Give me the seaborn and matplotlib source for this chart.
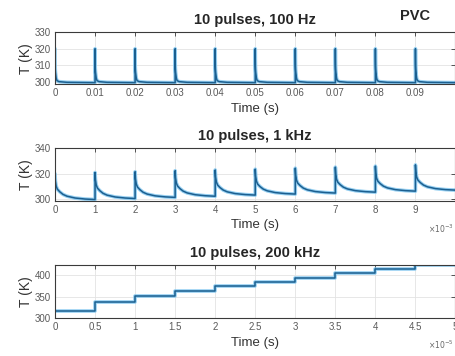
# recreate three-panel PVC pulse heating chart

import numpy as np
import matplotlib
matplotlib.use("Agg")
import matplotlib.pyplot as plt
import seaborn as sns

# ---- data ----
# 100 Hz: peak after each pulse and lowest value before the next one (K)
peak_100hz = [320, 320, 320, 320, 320, 320, 320, 320, 320, 320]
low_100hz = [299.4, 299.4, 299.4, 299.4, 299.4, 299.4, 299.4, 299.4, 299.4, 299.4]
# decay after a pulse: time as share of the period, value as share of the rise
decay_100hz_t = [0, 0.001, 0.003, 0.006, 0.012, 0.03, 0.05, 0.1, 0.3, 1.0]
decay_100hz_v = [1, 0.7, 0.5, 0.4, 0.3, 0.13, 0.06, 0.03, 0.01, 0]

# 1 kHz
peak_1khz = [320, 321, 321.6, 322.4, 323, 323.6, 324.4, 325.2, 326, 327]
low_1khz = [299.8, 300.6, 301.5, 302.4, 303.3, 304.1, 304.9, 305.6, 306.4, 307.2]
decay_1khz_t = [0, 0.01, 0.03, 0.06, 0.12, 0.2, 0.3, 0.5, 0.75, 1.0]
decay_1khz_v = [1, 0.72, 0.52, 0.4, 0.3, 0.2, 0.13, 0.06, 0.02, 0]

# 200 kHz: temperature level of each step (K)
step_200khz = [317, 336.5, 352.5, 364, 374.5, 384, 393.5, 404, 414, 423]

ticks_100hz = ["0", "0.01", "0.02", "0.03", "0.04", "0.05", "0.06", "0.07", "0.08", "0.09"]
ticks_1khz = ["0", "1", "2", "3", "4", "5", "6", "7", "8", "9"]
ticks_200khz = ["0", "0.5", "1", "1.5", "2", "2.5", "3", "3.5", "4", "4.5", "5"]


def pulse_train(period, peaks, lows, shape_t, shape_v):
    # join the decay curves of all pulses into one line
    t_all, v_all = [], []
    for k in range(len(peaks)):
        for ft, fv in zip(shape_t, shape_v):
            t_all.append((k + ft) * period)
            v_all.append(lows[k] + (peaks[k] - lows[k]) * fv)
    return np.array(t_all), np.array(v_all)


t1, v1 = pulse_train(0.01, peak_100hz, low_100hz, decay_100hz_t, decay_100hz_v)
t2, v2 = pulse_train(0.001, peak_1khz, low_1khz, decay_1khz_t, decay_1khz_v)
t3 = np.array([k * 0.5e-5 for k in range(len(step_200khz))] + [5e-5])
v3 = np.array(step_200khz + [step_200khz[-1]])

# ---- style ----
sns.set_theme(style="white")
plt.rcParams["font.family"] = ["Liberation Sans", "DejaVu Sans"]

W, H = 456, 356
fig = plt.figure(figsize=(W / 100, H / 100), dpi=100)


def make_ax(top, bottom):
    return fig.add_axes([55 / W, 1 - bottom / H, 400.5 / W, (bottom - top) / H])


ax1 = make_ax(32.3, 84.3)
ax2 = make_ax(148.3, 200.7)
ax3 = make_ax(265, 318.3)

halo = "#7cc4ee"
core = "#1b5f90"

for ax, t, v, step in [(ax1, t1, v1, False), (ax2, t2, v2, False), (ax3, t3, v3, True)]:
    kw = {"drawstyle": "steps-post"} if step else {}
    sns.lineplot(x=t, y=v, ax=ax, estimator=None, sort=False, color=halo,
                 linewidth=2.6, alpha=0.8, **kw)
    sns.lineplot(x=t, y=v, ax=ax, estimator=None, sort=False, color=core,
                 linewidth=1.1, **kw)

ax1.set_xlim(0, 0.1)
ax1.set_ylim(298.4, 330)
ax1.set_xticks([k * 0.01 for k in range(10)], labels=ticks_100hz)
ax1.set_yticks([300, 310, 320, 330])

ax2.set_xlim(0, 0.01)
ax2.set_ylim(298.9, 340)
ax2.set_xticks([k * 0.001 for k in range(10)], labels=ticks_1khz)
ax2.set_yticks([300, 320, 340])

ax3.set_xlim(0, 5e-5)
ax3.set_ylim(300, 423)
ax3.set_xticks([k * 0.5e-5 for k in range(11)], labels=ticks_200khz)
ax3.set_yticks([300, 350, 400])

titles = ["10 pulses, 100 Hz", "10 pulses, 1 kHz", "10 pulses, 200 kHz"]
for ax, title in zip([ax1, ax2, ax3], titles):
    ax.grid(True, color="#e3e3e3", linewidth=0.6)
    ax.set_axisbelow(True)
    for s in ax.spines.values():
        s.set_color("#3a3a3a")
        s.set_linewidth(0.8)
    ax.tick_params(direction="in", top=True, right=True, length=3, width=0.6,
                   color="#3a3a3a", labelsize=7, labelcolor="#5a5a5a", pad=3)
    ax.set_title(title, fontsize=10.5, fontweight="bold", pad=6)
    ax.set_xlabel("Time (s)", fontsize=9.5, color="#333333", labelpad=3)
    ax.set_ylabel("T (K)", fontsize=10, color="#333333", labelpad=1)

fig.text(415 / W, 1 - 16 / H, "PVC", fontsize=10.5, fontweight="bold",
         ha="center", va="center")
fig.text(454 / W, 1 - 229 / H, r"$\times10^{-3}$", fontsize=5.5, color="#666666",
         ha="right", va="center")
fig.text(454 / W, 1 - 345 / H, r"$\times10^{-5}$", fontsize=5.5, color="#666666",
         ha="right", va="center")

fig.savefig("out.png", dpi=100)
